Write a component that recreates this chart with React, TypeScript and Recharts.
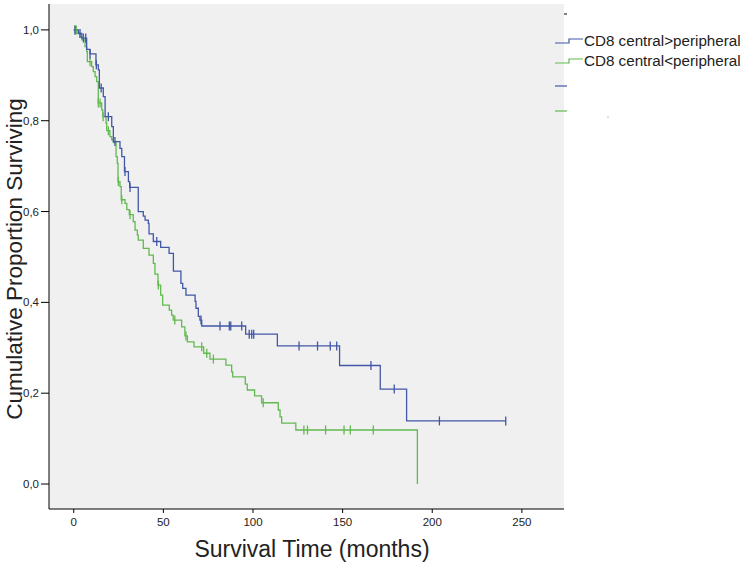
import React from "react";
import {
  ComposedChart,
  Line,
  Scatter,
  XAxis,
  YAxis,
  CartesianGrid,
  ReferenceArea,
} from "recharts";

// Kaplan-Meier step points: [time (months), cumulative survival]
const bluePoints: [number, number][] = [
  [0, 1.0], [2.6, 0.992], [4.5, 0.982], [7.2, 0.957], [9.1, 0.947], [12.4, 0.923],
  [13.7, 0.912], [14.3, 0.872], [16.5, 0.853], [17.5, 0.809], [21.2, 0.787],
  [22.1, 0.754], [25.8, 0.739], [26.8, 0.721], [28.3, 0.688], [30.5, 0.666],
  [31.2, 0.653], [36.0, 0.6], [38.8, 0.59], [39.8, 0.581], [41.6, 0.574],
  [42.0, 0.551], [44.4, 0.534], [48.5, 0.521], [53.2, 0.508], [55.6, 0.469],
  [59.8, 0.442], [60.8, 0.431], [62.6, 0.416], [67.7, 0.402], [68.2, 0.387],
  [69.5, 0.369], [70.4, 0.361], [71.4, 0.348], [95.9, 0.33], [113.6, 0.304],
  [148.3, 0.261], [171.0, 0.209], [185.7, 0.139], [241.0, 0.139],
];
const blueCensored: number[] = [
  0.7, 3.5, 5.4, 6.7, 9.1, 12.6, 15.3, 19.3, 23, 28.6, 31.4, 46.3, 71, 81.6, 86.8,
  87.6, 93.7, 97.9, 99.3, 100.4, 125.7, 136, 143.1, 146.7, 165.8, 178.8, 204, 241,
];

const greenPoints: [number, number][] = [
  [0, 1.0], [1.7, 0.993], [3.5, 0.984], [4.5, 0.978], [6.3, 0.963], [7.2, 0.952],
  [7.6, 0.93], [10.0, 0.919], [10.9, 0.908], [11.9, 0.897], [12.8, 0.886],
  [13.7, 0.839], [15.6, 0.824], [16.2, 0.809], [18.0, 0.795], [18.4, 0.778],
  [20.2, 0.765], [21.2, 0.758], [22.1, 0.752], [23.6, 0.721], [24.3, 0.706],
  [24.7, 0.666], [25.8, 0.655], [26.5, 0.626], [28.6, 0.618], [29.6, 0.604],
  [31.0, 0.593], [33.2, 0.578], [34.2, 0.559], [35.5, 0.548], [36.0, 0.537],
  [38.8, 0.519], [42.0, 0.504], [44.4, 0.486], [45.3, 0.462], [47.0, 0.438],
  [48.5, 0.416], [49.6, 0.394], [53.3, 0.383], [54.6, 0.372], [55.5, 0.361],
  [60.2, 0.346], [62.0, 0.326], [63.4, 0.313], [67.1, 0.302], [72.5, 0.288],
  [76.0, 0.275], [84.9, 0.262], [88.1, 0.247], [88.7, 0.236], [95.7, 0.22],
  [96.8, 0.207], [100.9, 0.194], [104.8, 0.179], [114.1, 0.163], [115.1, 0.148],
  [116.0, 0.134], [123.9, 0.119], [191.7, 0.0],
];
const greenCensored: number[] = [
  0.7, 1.4, 9.1, 13.7, 14.7, 16.4, 19.3, 24.9, 26.8, 31.4, 47.2, 56.4, 62.6, 71.4,
  74.2, 77.9, 105.7, 128.4, 130.4, 140.5, 150.8, 154.3, 167.1,
];

const xTicks = [0, 50, 100, 150, 200, 250];
const yTicks = [0, 0.2, 0.4, 0.6, 0.8, 1.0];
const seriesNames = ["CD8 central>peripheral", "CD8 central<peripheral"];
const xTitle = "Survival Time (months)";
const yTitle = "Cumulative Proportion Surviving";

const BLUE = "#4257a6";
const GREEN = "#62b94f";
const FONT = "'Liberation Sans', Arial, sans-serif";

const toRows = (pts: [number, number][]) => pts.map(([t, s]) => ({ t, s }));
const survivalAt = (pts: [number, number][], t: number) => {
  let s = pts[0][1];
  for (const [pt, ps] of pts) {
    if (pt <= t) s = ps;
    else break;
  }
  return s;
};
const censorRows = (pts: [number, number][], times: number[]) =>
  times.map((t) => ({ t, s: survivalAt(pts, t) }));

const makeTick = (color: string) => (props: any) => {
  const { cx, cy } = props;
  if (cx == null || cy == null) return <g />;
  return <line x1={cx} x2={cx} y1={cy - 4.5} y2={cy + 4.5} stroke={color} strokeWidth={1.3} />;
};

export default function App() {
  return (
    <div style={{ position: "absolute", left: 0, top: 0, width: 747, height: 567, background: "#fff" }}>
      <ComposedChart
        width={747}
        height={567}
        margin={{ top: 4, right: 183, left: 0, bottom: 0 }}
      >
        <CartesianGrid horizontal={false} vertical={false} fill="#f0f0f0" />
        <XAxis
          type="number"
          dataKey="t"
          domain={[-13.8, 273.5]}
          ticks={xTicks}
          height={58}
          tickSize={4}
          tickMargin={5}
          axisLine={{ stroke: "#000" }}
          tickLine={{ stroke: "#000" }}
          tick={{ fontSize: 11.5, fill: "#222", fontFamily: FONT }}
          allowDataOverflow
        />
        <YAxis
          type="number"
          dataKey="s"
          domain={[-0.055, 1.057]}
          ticks={yTicks}
          width={49}
          tickSize={8}
          tickMargin={2}
          axisLine={{ stroke: "#000" }}
          tickLine={{ stroke: "#000" }}
          tick={{ fontSize: 11.5, fill: "#222", fontFamily: FONT }}
          tickFormatter={(v: number) => v.toFixed(1).replace(".", ",")}
          allowDataOverflow
        />
        <ReferenceArea fill="none" stroke="#000" strokeWidth={1} fillOpacity={0} />
        <Line
          data={toRows(greenPoints)}
          dataKey="s"
          type="stepAfter"
          stroke={GREEN}
          strokeWidth={1.3}
          dot={false}
          isAnimationActive={false}
          name={seriesNames[1]}
        />
        <Line
          data={toRows(bluePoints)}
          dataKey="s"
          type="stepAfter"
          stroke={BLUE}
          strokeWidth={1.3}
          dot={false}
          isAnimationActive={false}
          name={seriesNames[0]}
        />
        <Scatter
          data={censorRows(greenPoints, greenCensored)}
          dataKey="s"
          shape={makeTick(GREEN)}
          isAnimationActive={false}
        />
        <Scatter
          data={censorRows(bluePoints, blueCensored)}
          dataKey="s"
          shape={makeTick(BLUE)}
          isAnimationActive={false}
        />
      </ComposedChart>
      <svg
        width={747}
        height={567}
        style={{ position: "absolute", left: 0, top: 0, pointerEvents: "none" }}
      >
        <text
          x={312}
          y={557}
          textAnchor="middle"
          fontSize={23}
          fill="#222"
          fontFamily={FONT}
        >
          {xTitle}
        </text>
        <text
          transform="translate(22,259) rotate(-90)"
          textAnchor="middle"
          fontSize={22.5}
          fill="#222"
          fontFamily={FONT}
        >
          {yTitle}
        </text>
        <line x1={564} x2={567} y1={14} y2={14} stroke="#000" strokeWidth={1} />
        <polyline points="555,43 569,43 569,39 583,39" fill="none" stroke={BLUE} strokeWidth={1.2} />
        <polyline points="555,63 569,63 569,59 583,59" fill="none" stroke={GREEN} strokeWidth={1.2} />
        <line x1={555} x2={567} y1={86} y2={86} stroke={BLUE} strokeWidth={1.2} />
        <line x1={555} x2={567} y1={111} y2={111} stroke={GREEN} strokeWidth={1.2} />
        <circle cx={608} cy={117} r={0.6} fill="#777" />
        <text x={584} y={46} fontSize={15.2} fill="#222" fontFamily={FONT}>
          {seriesNames[0]}
        </text>
        <text x={584} y={66} fontSize={15.2} fill="#222" fontFamily={FONT}>
          {seriesNames[1]}
        </text>
      </svg>
    </div>
  );
}
